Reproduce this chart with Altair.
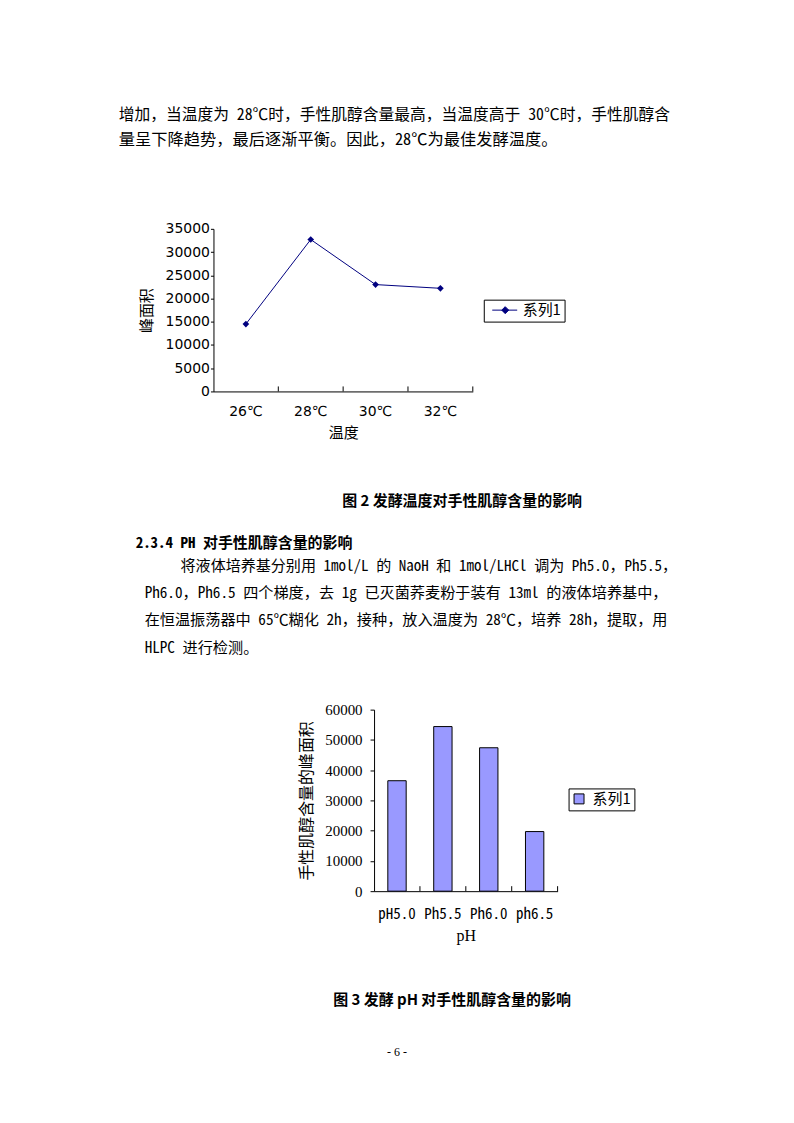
import altair as alt
import pandas as pd

# ---------------- data / texts ----------------
para1_lines = [
    "增加，当温度为 28℃时，手性肌醇含量最高，当温度高于 30℃时，手性肌醇含",
    "量呈下降趋势，最后逐渐平衡。因此，28℃为最佳发酵温度。",
]
series_name = "系列1"
temp_labels = ["26℃", "28℃", "30℃", "32℃"]
temp_values = [14500, 32700, 23000, 22200]
temp_ticks = [0, 5000, 10000, 15000, 20000, 25000, 30000, 35000]

caption2 = "图 2 发酵温度对手性肌醇含量的影响"
heading = "2.3.4 PH 对手性肌醇含量的影响"
para2_lines = [
    "将液体培养基分别用 1mol/L 的 NaoH 和 1mol/LHCl 调为 Ph5.0，Ph5.5，",
    "Ph6.0，Ph6.5 四个梯度，去 1g 已灭菌荞麦粉于装有 13ml 的液体培养基中，",
    "在恒温振荡器中 65℃糊化 2h，接种，放入温度为 28℃，培养 28h，提取，用",
    "HLPC 进行检测。",
]
ph_labels = ["pH5.0", "Ph5.5", "Ph6.0", "ph6.5"]
ph_values = [36500, 54400, 47400, 19700]
ph_ticks = [0, 10000, 20000, 30000, 40000, 50000, 60000]
caption3 = "图 3 发酵 pH 对手性肌醇含量的影响"
page_no = "- 6 -"

BODY = "Noto Sans Mono CJK SC, Noto Sans CJK SC"
CJK = "Noto Sans CJK SC"
NAVY = "#000080"
PAGE_W = 794


def text_layer(txt, x, y, size, bold=False, font=BODY, align="left"):
    return alt.Chart(pd.DataFrame({"t": [txt]})).mark_text(
        align=align, baseline="middle", fontSize=size, font=font,
        fontWeight="bold" if bold else "normal", color="black",
    ).encode(text="t:N", x=alt.value(x), y=alt.value(y))


# ---------------- row 0: paragraph 1 ----------------
row0 = alt.layer(
    text_layer(para1_lines[0], 118, 112.5, 15.8),
    text_layer(para1_lines[1], 118, 137.5, 16.3),
).properties(width=PAGE_W, height=227)

# ---------------- chart 1: line ----------------
df1 = pd.DataFrame({"temp": temp_labels, "area": temp_values,
                    "series1": [series_name] * len(temp_labels)})

x1_scale = alt.Scale(type="band", paddingInner=0, paddingOuter=0, range=[213, 473])
x1 = alt.X("temp:N", sort=temp_labels, scale=x1_scale, bandPosition=0.5,
           axis=alt.Axis(title="温度", labelAngle=0, tickSize=0, labelPadding=13,
                         titlePadding=7, labelFont="DejaVu Sans", labelFontSize=14,
                         titleFont=CJK, titleFontSize=15, titleFontWeight="normal",
                         labelColor="black", titleColor="black", domainColor="black"))
y1 = alt.Y("area:Q", scale=alt.Scale(domain=[0, 35000], nice=False),
           axis=alt.Axis(title="峰面积", values=temp_ticks, format="d", offset=-213,
                         tickSize=3, labelPadding=1, titlePadding=11, grid=False,
                         labelFont="DejaVu Sans", labelFontSize=14, titleFont=CJK,
                         titleFontSize=15, titleFontWeight="normal",
                         labelColor="black", titleColor="black",
                         domainColor="black", tickColor="black"))

# symbol region 14 px wide (unit = 7 px); the line+diamond is drawn beyond it
legend1 = alt.Legend(
    title=None, orient="none", legendX=484, legendY=71,
    symbolType="M-0.286,0L3.286,0M1.071,0L1.571,-0.5L2.071,0L1.571,0.5Z",
    symbolSize=196, symbolFillColor=NAVY, symbolStrokeColor=NAVY,
    symbolStrokeWidth=1, labelFont=CJK, labelFontSize=15, labelColor="black",
    labelOffset=21, padding=3, strokeColor="black",
)

line1 = alt.Chart(df1).mark_line(strokeWidth=1).encode(
    x=x1, y=y1,
    color=alt.Color("series1:N", scale=alt.Scale(range=[NAVY]), legend=legend1),
)
pts1 = alt.Chart(df1).mark_point(shape="diamond", filled=True, size=45,
                                 color=NAVY, opacity=1).encode(x=x1, y=y1)
ticks1 = alt.Chart(df1).mark_rule(color="black", strokeWidth=1).encode(
    x=alt.X("temp:N", sort=temp_labels, scale=x1_scale, bandPosition=1),
    y=alt.value(163), y2=alt.value(158),
)
row1 = alt.layer(line1, pts1, ticks1).properties(width=PAGE_W, height=163)

# ---------------- row 2: caption + heading + paragraph 2 ----------------
row2 = alt.layer(
    text_layer(caption2, 342, 110, 15, bold=True, font=CJK),
    text_layer(heading, 135, 151.5, 15, bold=True),
    text_layer(para2_lines[0], 180, 175, 15.1),
    text_layer(para2_lines[1], 144, 202.5, 15.2),
    text_layer(para2_lines[2], 144, 229.5, 15.2),
    text_layer(para2_lines[3], 144, 257, 15.2),
).properties(width=PAGE_W, height=319)

# ---------------- chart 2: bars ----------------
df2 = pd.DataFrame({"ph": ph_labels, "area2": ph_values,
                    "series2": [series_name] * len(ph_labels)})
x2_scale = alt.Scale(type="band", paddingInner=0, paddingOuter=0, range=[374, 558])
x2 = alt.X("ph:N", sort=ph_labels, scale=x2_scale,
           axis=alt.Axis(title="pH", labelAngle=0, tickSize=0, labelPadding=15,
                         titlePadding=6, labelFont=BODY, labelFontSize=15,
                         titleFont="Liberation Serif", titleFontSize=16,
                         titleFontWeight="normal", labelColor="black",
                         titleColor="black", domainColor="black"))
y2 = alt.Y("area2:Q", scale=alt.Scale(domain=[0, 60000], nice=False),
           axis=alt.Axis(title="手性肌醇含量的峰面积", values=ph_ticks, format="d",
                         offset=-374, tickSize=4, labelPadding=8, titlePadding=10,
                         grid=False, labelFont="Liberation Serif", labelFontSize=15,
                         titleFont=CJK, titleFontSize=16, titleFontWeight="normal",
                         labelColor="black", titleColor="black",
                         domainColor="black", tickColor="black"))
legend2 = alt.Legend(
    title=None, orient="none", legendX=569, legendY=79,
    symbolType="M-0.714,-0.714L0.714,-0.714L0.714,0.714L-0.714,0.714Z",
    symbolSize=196, symbolStrokeColor="black", symbolStrokeWidth=1,
    labelFont=CJK, labelFontSize=15, labelColor="black", labelOffset=6,
    padding=3, strokeColor="black",
)
bars2 = alt.Chart(df2).mark_bar(width=alt.RelativeBandSize(0.4), stroke="black",
                                strokeWidth=1).encode(
    x=x2, y=y2,
    color=alt.Color("series2:N", scale=alt.Scale(range=["#9999FF"]), legend=legend2),
)
ticks2 = alt.Chart(df2).mark_rule(color="black", strokeWidth=1).encode(
    x=alt.X("ph:N", sort=ph_labels, scale=x2_scale, bandPosition=1),
    y=alt.value(182), y2=alt.value(177),
)
row3 = alt.layer(bars2, ticks2).properties(width=PAGE_W, height=182)

# ---------------- row 4: caption 3 + page number ----------------
row4 = alt.layer(
    text_layer(caption3, 333, 109.5, 15, bold=True, font=CJK),
    text_layer(page_no, 397, 161, 12, font="Liberation Serif", align="center"),
).properties(width=PAGE_W, height=232)

chart = alt.vconcat(row0, row1, row2, row3, row4, spacing=0, bounds="flush").resolve_scale(
    x="independent", y="independent", color="independent"
).resolve_legend(color="independent").properties(
    padding=0, background="white"
).configure(font=CJK, view=alt.ViewConfig(stroke="transparent"))

chart.save("out.html", embed_options={"renderer": "svg", "actions": False})
